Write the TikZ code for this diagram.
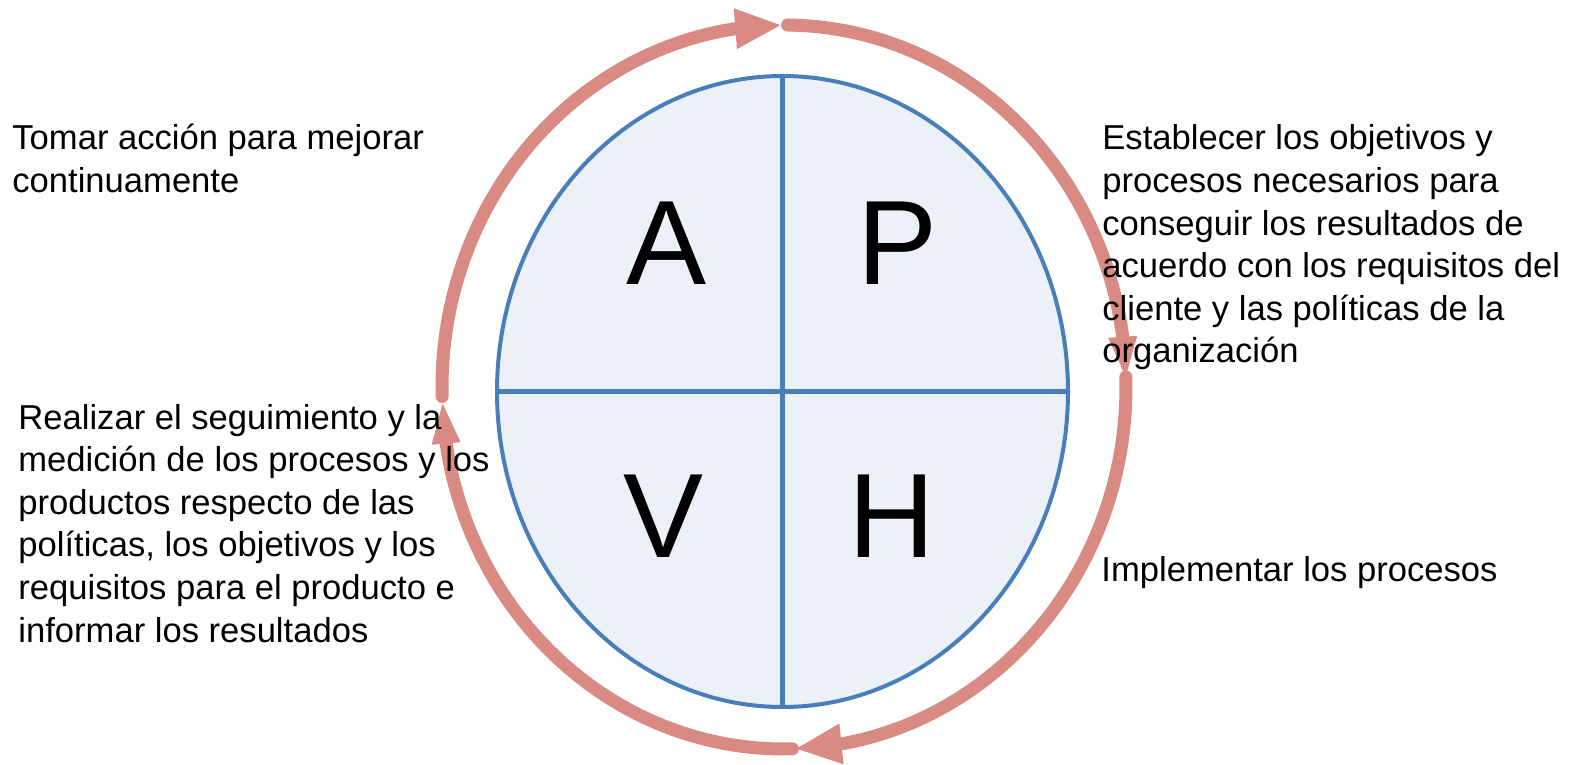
\documentclass[tikz,border=0pt]{standalone}
\usepackage{fontspec}
\setmainfont{Liberation Sans}
\usetikzlibrary{arrows.meta,shapes.geometric,bending}
\definecolor{pdcaPink}{RGB}{217,138,131}
\definecolor{pdcaBlue}{RGB}{74,126,187}
\definecolor{pdcaFill}{RGB}{236,240,247}
\begin{document}
\begin{tikzpicture}[x=0.5pt,y=-0.5pt,
  cyclearc/.style={draw=pdcaPink, line width=6.5pt, line cap=round},
  tiptb/.style={-{Triangle[length=23.5pt,width=18.5pt,flex]}},
  tiplr/.style={-{Triangle[length=22pt,width=12.5pt,flex]}},
  letter/.style={font=\fontsize{60}{72}\selectfont, inner sep=0pt, anchor=base},
  desc/.style={font=\fontsize{17.3}{21.3}\selectfont, inner sep=0pt, anchor=base west},
  divider/.style={draw=pdcaBlue, line width=2.3pt},
]
\useasboundingbox (0,0) rectangle (1570,765);
\fill[white] (0,0) rectangle (1570,765);
\coordinate (c0) at (784,387);
\node[ellipse, draw=pdcaBlue, fill=pdcaFill, line width=2pt, inner sep=0pt, outer sep=0pt,
      minimum width=285.5pt, minimum height=315.5pt] (cyc) at (782.5,391.5) {};
\draw[divider] (cyc.north) -- (cyc.south);
\draw[divider] (cyc.west) -- (cyc.east);
\node[letter] (A) at (667,284) {A};
\node[letter] (P) at (898,285) {P};
\node[letter] (V) at (664,557) {V};
\node[letter] (H) at (892,557) {H};
% cycle arrows
\draw[cyclearc, tiptb] (c0) ++(178.5:342 and 362) arc[start angle=178.5, end angle=269.7, x radius=342, y radius=362];
\draw[cyclearc, tiplr] (c0) ++(270.6:342 and 362) arc[start angle=270.6, end angle=359, x radius=342, y radius=362];
\draw[cyclearc, tiptb] (c0) ++(-1.6:342 and 362) arc[start angle=-1.6, end angle=88.2, x radius=342, y radius=362];
\draw[cyclearc, tiplr] (c0) ++(88.6:342 and 362) arc[start angle=88.6, end angle=178, x radius=342, y radius=362];
% descriptions
\node[desc] (act) at (12,150) {\vtop{\hbox{Tomar acción para mejorar}\hbox{continuamente}}};
\node[desc] (plan) at (1102,150) {\vtop{\hbox{Establecer los objetivos y}\hbox{procesos necesarios para}\hbox{conseguir los resultados de}\hbox{acuerdo con los requisitos del}\hbox{cliente y las políticas de la}\hbox{organización}}};
\node[desc] (check) at (18,429) {\vtop{\hbox{Realizar el seguimiento y la}\hbox{medición de los procesos y los}\hbox{productos respecto de las}\hbox{políticas, los objetivos y los}\hbox{requisitos para el producto e}\hbox{informar los resultados}}};
\node[desc] (do) at (1101,581) {Implementar los procesos};
\end{tikzpicture}
\end{document}
